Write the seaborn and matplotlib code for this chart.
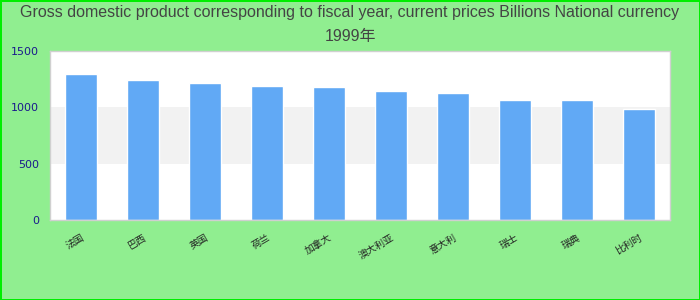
import matplotlib
matplotlib.use("Agg")
import matplotlib.pyplot as plt
import seaborn as sns
import pandas as pd

categories = ["法国", "巴西", "英国", "荷兰", "加拿大", "澳大利亚", "意大利", "瑞士", "瑞典", "比利时"]
values = [1296, 1243, 1216, 1189, 1180, 1145, 1127, 1065, 1065, 985]
yticks = [0, 500, 1000, 1500]
title = "Gross domestic product corresponding to fiscal year, current prices Billions National currency\n1999年"

sns.set_theme(style="white")
plt.rcParams["font.family"] = ["Liberation Sans", "Noto Sans CJK SC", "DejaVu Sans"]

df = pd.DataFrame({"country": categories, "value": values})

fig = plt.figure(figsize=(7, 3), dpi=100, facecolor="#90ee90")
fig.patch.set_edgecolor("#00ee00")
fig.patch.set_linewidth(2)
ax = fig.add_axes([50 / 700, 80 / 300, 620 / 700, 169 / 300])
ax.set_facecolor("white")
ax.axhspan(500, 1000, color="#f2f2f2", zorder=0, lw=0)

sns.barplot(data=df, x="country", y="value", color="#61a9f5", width=0.52,
            saturation=1, ax=ax, zorder=2)

ax.set_ylim(0, 1500)
ax.set_xlim(-0.5, len(categories) - 0.5)
ax.set_yticks(yticks)
ax.set_yticklabels([str(v) for v in yticks], color="#1a1a8c", fontsize=8,
                   family=["DejaVu Sans"])
ax.set_xticks(range(len(categories)))
ax.set_xticklabels(categories, rotation=30, ha="right", rotation_mode="anchor",
                   fontsize=7, color="#222222",
                   family=["Noto Sans CJK SC", "DejaVu Sans"])
ax.tick_params(axis="y", length=0, pad=8)
ax.tick_params(axis="x", length=0, pad=9)
ax.set_xlabel("")
ax.set_ylabel("")
for s in ax.spines.values():
    s.set_color("#d0d0d0")
    s.set_linewidth(1)

fig.text(0.5, 0.982, title, ha="center", va="top", fontsize=11.5, color="#444444",
         linespacing=1.75, family=["Liberation Sans", "Noto Sans CJK SC", "DejaVu Sans"])

fig.savefig("out.png", dpi=100, facecolor=fig.get_facecolor(), edgecolor=fig.get_edgecolor())
